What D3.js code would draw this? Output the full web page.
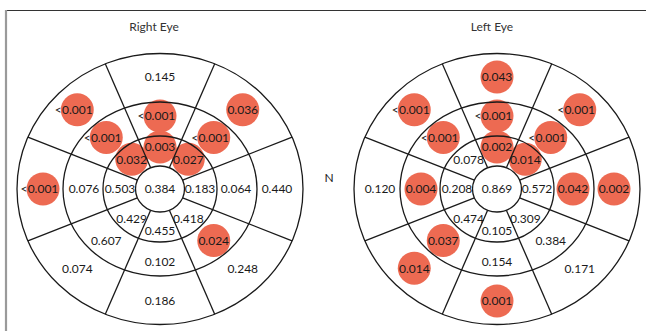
<!DOCTYPE html>
<html>
<head>
<meta charset="utf-8">
<script src="https://cdn.jsdelivr.net/npm/d3@7"></script>
<style>
  html, body { margin: 0; padding: 0; background: #fff; }
  svg { display: block; }
  text { font-family: Lato, "Open Sans", sans-serif; fill: #1a1a1a; }
</style>
</head>
<body>
<svg id="chart" width="646" height="331"></svg>
<script>
// Sectors run clockwise from the top of each map.
const sectors = ["top", "top-right", "right", "bottom-right", "bottom", "bottom-left", "left", "top-left"];
const rings = ["inner", "middle", "outer"];

// p-values per eye: centre, then each ring by sector.
const rightCenter = "0.384";
const rightInner  = ["0.003", "0.027", "0.183", "0.418", "0.455", "0.429", "0.503", "0.032"];
const rightMiddle = ["<0.001", "<0.001", "0.064", "0.024", "0.102", "0.607", "0.076", "<0.001"];
const rightOuter  = ["0.145", "0.036", "0.440", "0.248", "0.186", "0.074", "<0.001", "<0.001"];

const leftCenter = "0.869";
const leftInner  = ["0.002", "0.014", "0.572", "0.309", "0.105", "0.474", "0.208", "0.078"];
const leftMiddle = ["<0.001", "<0.001", "0.042", "0.384", "0.154", "0.037", "0.004", "<0.001"];
const leftOuter  = ["0.043", "<0.001", "0.002", "0.171", "0.001", "0.014", "0.120", "<0.001"];

const eyeTitles = ["Right Eye", "Left Eye"];
const alpha = 0.05;

const svg = d3.select("#chart");

// Frame
svg.append("line").attr("x1", 5).attr("x2", 646).attr("y1", 10.5).attr("y2", 10.5)
  .attr("stroke", "#333").attr("stroke-width", 1.2);
svg.append("line").attr("x1", 6).attr("x2", 6).attr("y1", 10).attr("y2", 331)
  .attr("stroke", "#9a9a9a").attr("stroke-width", 2.2);

// Ellipse boundaries (horizontal / vertical radii) from centre disc to outer edge
const boundRx = [24.5, 57, 97, 143];
const boundRy = [23, 53, 87, 135.5];
// Label radii for each ring
const labelRx = d3.scaleOrdinal().domain(rings).range([40, 76, 117]);
const labelRy = d3.scaleOrdinal().domain(rings).range([42, 73, 112]);
// Sector index -> angle (clockwise from top)
const angle = d3.scaleLinear().domain([0, sectors.length]).range([0, 2 * Math.PI]);

const eyes = [
  { title: eyeTitles[0], cx: 160, cy: 189, titleX: 154, center: rightCenter, rings: [rightInner, rightMiddle, rightOuter] },
  { title: eyeTitles[1], cx: 497, cy: 189, titleX: 492, center: leftCenter, rings: [leftInner, leftMiddle, leftOuter] }
];

function parseP(s) {
  return { less: s.startsWith("<"), text: s.replace("<", "").trim(), p: parseFloat(s.replace("<", "")) };
}

eyes.forEach(eye => {
  const g = svg.append("g");
  g.append("text").attr("x", eye.titleX).attr("y", 31).attr("text-anchor", "middle")
    .attr("font-size", 12).style("fill", "#333").text(eye.title);

  // Cell records
  const cells = [];
  eye.rings.forEach((vals, ri) => {
    vals.forEach((v, si) => {
      const a = angle(si);
      cells.push(Object.assign(parseP(v), {
        x: eye.cx + labelRx(rings[ri]) * Math.sin(a),
        y: eye.cy - labelRy(rings[ri]) * Math.cos(a)
      }));
    });
  });
  const c0 = Object.assign(parseP(eye.center), { x: eye.cx, y: eye.cy });

  // Significance markers
  g.selectAll("circle.sig").data(cells.concat([c0]).filter(d => d.p < alpha)).join("circle")
    .attr("class", "sig").attr("cx", d => d.x).attr("cy", d => d.y).attr("r", 16.5)
    .attr("fill", "#ED6A52");

  // Ring outlines
  g.selectAll("ellipse.ring").data(d3.range(1, boundRx.length)).join("ellipse")
    .attr("class", "ring").attr("cx", eye.cx).attr("cy", eye.cy)
    .attr("rx", i => boundRx[i]).attr("ry", i => boundRy[i])
    .attr("fill", "none").attr("stroke", "#1a1a1a").attr("stroke-width", 1.3);

  // Sector dividers
  const n = boundRx.length - 1;
  g.selectAll("line.spoke").data(d3.range(sectors.length)).join("line")
    .attr("class", "spoke")
    .attr("x1", i => eye.cx + boundRx[0] * Math.sin(angle(i + 0.5)))
    .attr("y1", i => eye.cy - boundRy[0] * Math.cos(angle(i + 0.5)))
    .attr("x2", i => eye.cx + boundRx[n] * Math.sin(angle(i + 0.5)))
    .attr("y2", i => eye.cy - boundRy[n] * Math.cos(angle(i + 0.5)))
    .attr("stroke", "#1a1a1a").attr("stroke-width", 1.3);

  // Central disc
  g.append("ellipse").attr("cx", eye.cx).attr("cy", eye.cy)
    .attr("rx", boundRx[0]).attr("ry", boundRy[0])
    .attr("fill", c0.p < alpha ? "#ED6A52" : "#fff").attr("stroke", "#1a1a1a").attr("stroke-width", 1.3);

  // Values
  const all = cells.concat([c0]);
  g.selectAll("text.val").data(all).join("text")
    .attr("class", "val").attr("x", d => d.x).attr("y", d => d.y)
    .attr("dy", "0.36em").attr("text-anchor", "middle").attr("font-size", 12)
    .text(d => d.text);
  g.selectAll("text.lt").data(all.filter(d => d.less)).join("text")
    .attr("class", "lt").attr("x", d => d.x - 15.5).attr("y", d => d.y)
    .attr("dy", "0.36em").attr("text-anchor", "end").attr("font-size", 12)
    .text("<");
});

// Nasal side marker between the two maps
svg.append("text").attr("x", 329).attr("y", 182).attr("text-anchor", "middle")
  .attr("font-size", 12).style("fill", "#222").text("N");
</script>
</body>
</html>
